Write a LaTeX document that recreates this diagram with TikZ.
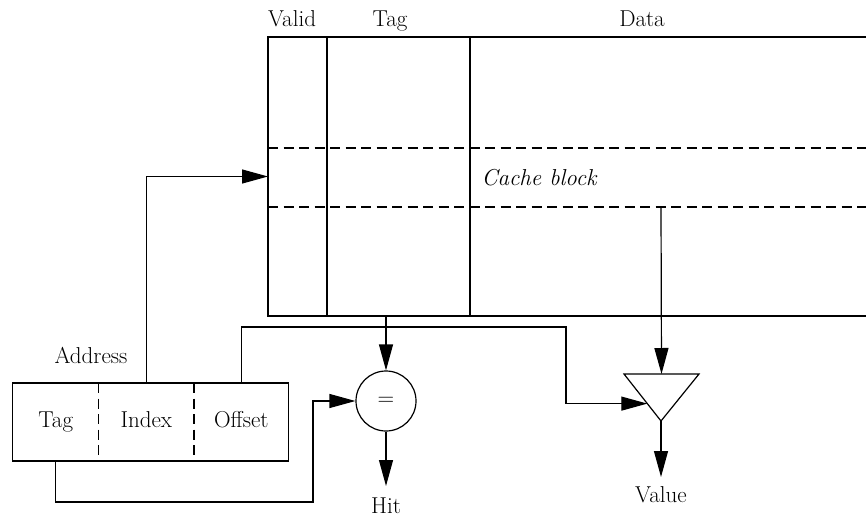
\documentclass[tikz,border=0pt]{standalone}
\usepackage{tikz}
\usetikzlibrary{arrows.meta, positioning, calc}
\tikzset{
    % Cache table
    cachecol/.style={rectangle, draw, minimum height=279pt, inner sep=0pt, outer sep=0pt},
    rowsep/.style={dash pattern=on 10pt off 5.5pt},
    % Labels
    lbl/.style={font=\fontsize{23}{27}\selectfont, inner sep=0pt},
    % Address
    addrfield/.style={rectangle, minimum height=78pt, inner sep=0pt, outer sep=0pt,
                text height=15.7pt, text depth=4.5pt, font=\fontsize{23}{27}\selectfont},
    % Comparator
    cmpnode/.style={circle, draw, minimum size=60pt, inner sep=0pt,
                font=\fontsize{23}{27}\selectfont},
    % General
    sigarrow/.style={-{Triangle[length=26pt, width=14pt]}},
}

\begin{document}
\begin{tikzpicture}[x=1pt, y=-1pt, line width=1.2pt]
\useasboundingbox (0,0) rectangle (866,516);
\clip (0,0) rectangle (866,516);

% Cache table
\node[cachecol, minimum width=59pt, anchor=north west] (valid) at (268,37) {};
\node[cachecol, minimum width=143pt, anchor=north west] (tagcol) at (valid.north east) {};
\node[cachecol, minimum width=500pt, anchor=north west] (datacol) at (tagcol.north east) {};
\draw[rowsep] (268,148) -- (900,148);
\draw[rowsep] (268,207) -- (900,207);

% Headers
\node[lbl, anchor=base] (hvalid) at (292,27) {Valid};
\node[lbl, anchor=base] (htag) at (390,27) {Tag};
\node[lbl, anchor=base] (hdata) at (642,27) {Data};
\node[lbl, anchor=base, font=\fontsize{23}{27}\selectfont\itshape] (blk) at (539,185) {Cache block};

% Address
\node[addrfield, minimum width=86pt, anchor=north west] (atag) at (12.7,383) {Tag};
\node[addrfield, minimum width=95.3pt, anchor=north west] (aidx) at (atag.north east) {Index};
\node[addrfield, minimum width=94.7pt, anchor=north west] (aoff) at (aidx.north east) {Offset};
\draw (atag.north west) rectangle (aoff.south east);
\draw[rowsep] (atag.north east) -- (atag.south east);
\draw[rowsep] (aidx.north east) -- (aidx.south east);
\node[lbl, anchor=base] (addr) at (91,363) {Address};

% Comparator and mux
\node[cmpnode] (cmp) at (386,401) {=};
\coordinate (muxl) at (624,374);
\coordinate (muxr) at (699,374);
\coordinate (muxtip) at (661,421);
\draw (muxl) -- (muxr) -- (muxtip) -- cycle;
\coordinate (muxtop) at ($(muxl)!0.5!(muxr)$);
\coordinate (muxin) at ($(muxl)!0.63!(muxtip)$);

% Outputs
\coordinate (hitend) at (386,486);
\node[lbl, below=11pt of hitend] (hit) {Hit};
\coordinate (valend) at (661,477);
\node[lbl, below=9pt of valend] (value) {Value};

% Arrows
\coordinate (tagout) at (386,316);
\coordinate (dataout) at (661,207);
\coordinate (offjog) at (566,327);
\coordinate (tagjog) at (313,502);
\draw[sigarrow] (aidx.north) |- (valid.west);
\draw[sigarrow] (tagout) -- (cmp.north);
\draw[sigarrow] (dataout) -- (muxtop);
\draw[sigarrow] (aoff.north) |- (offjog) |- (muxin);
\draw[sigarrow] (atag.south) |- (tagjog) |- (cmp.west);
\draw[sigarrow] (cmp.south) -- (hitend);
\draw[sigarrow] (muxtip) -- (valend);

\end{tikzpicture}
\end{document}
